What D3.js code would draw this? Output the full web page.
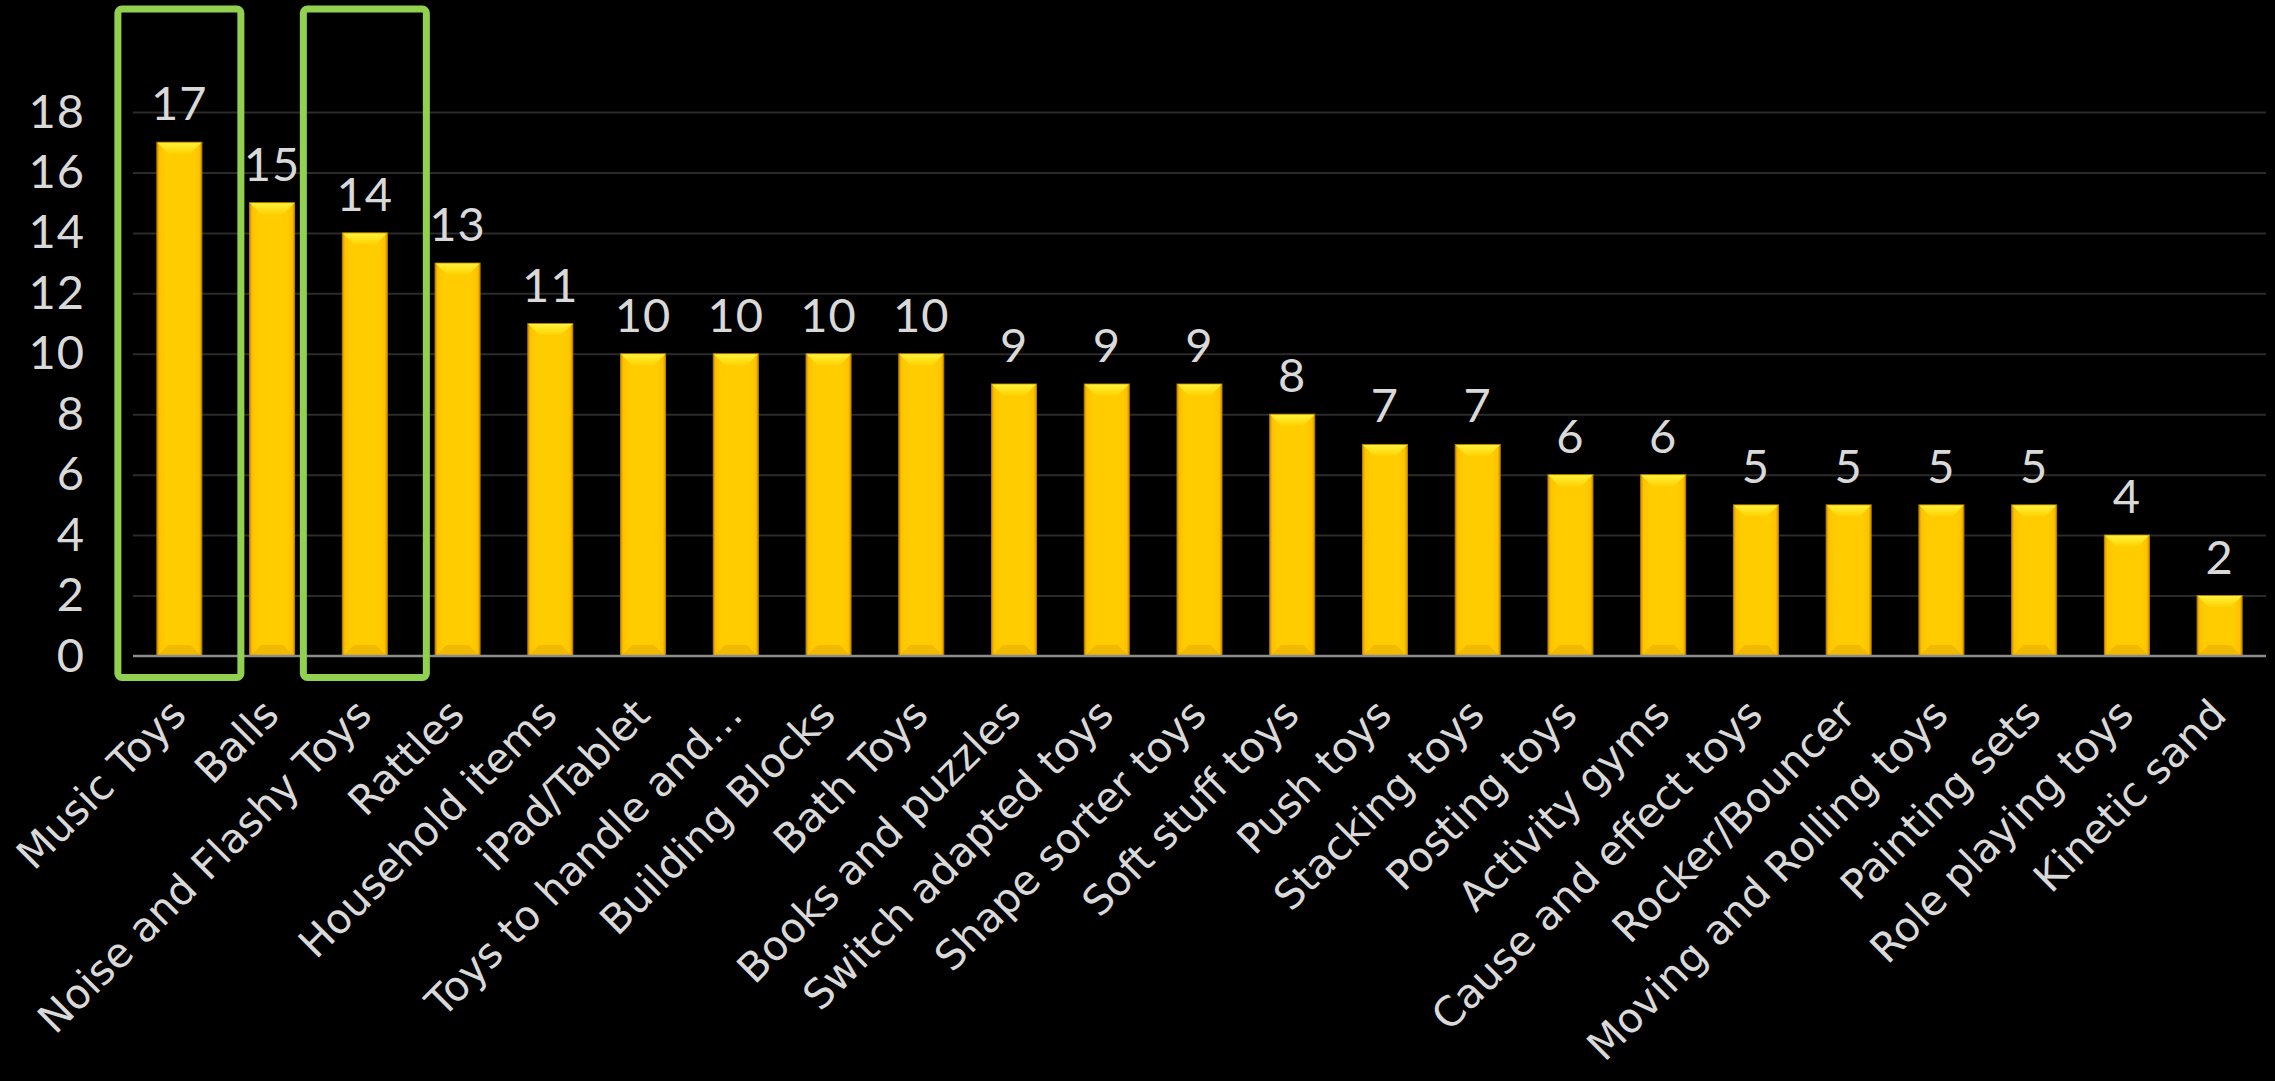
<!DOCTYPE html>
<html>
<head>
<meta charset="utf-8">
<script src="https://cdn.jsdelivr.net/npm/d3@7"></script>
<style>
  html, body { margin: 0; padding: 0; background: #000; }
  svg { display: block; }
</style>
</head>
<body>
<svg id="chart" width="2275" height="1081"></svg>
<script>
const categories = ["Music Toys","Balls","Noise and Flashy Toys","Rattles","Household items","iPad/Tablet","Toys to handle and…","Building Blocks","Bath Toys","Books and puzzles","Switch adapted toys","Shape sorter toys","Soft stuff toys","Push toys","Stacking toys","Posting toys","Activity gyms","Cause and effect toys","Rocker/Bouncer","Moving and Rolling toys","Painting sets","Role playing toys","Kinetic sand"];
const values = [17,15,14,13,11,10,10,10,10,9,9,9,8,7,7,6,6,5,5,5,5,4,2];
const yTicks = [0,2,4,6,8,10,12,14,16,18];
const highlighted = ["Music Toys","Noise and Flashy Toys"];

(function () {
const svg = d3.select("#chart");
svg.append("rect").attr("width",2275).attr("height",1081).attr("fill","#000");

const numFont = "Lato, 'Noto Sans', sans-serif";
const catFont = "'DejaVu Sans', sans-serif";
const textCol = "#d9d9d9";

const pLeft = 133, pRight = 2266, pTop = 112, pBottom = 656;
const x = d3.scaleBand().domain(categories).range([pLeft, pRight]).paddingInner(0.515).paddingOuter(0.2575);
const y = d3.scaleLinear().domain([0, 18]).range([pBottom, pTop]);

const defs = svg.append("defs");
const g1 = defs.append("linearGradient").attr("id","barGrad").attr("x1","0").attr("x2","1").attr("y1","0").attr("y2","0");
[["0%","#d49500"],["6%","#ffc200"],["18%","#ffcc00"],["82%","#ffcc00"],["94%","#ffc200"],["100%","#d49500"]]
  .forEach(([o,c]) => g1.append("stop").attr("offset",o).attr("stop-color",c));
const g2 = defs.append("linearGradient").attr("id","topGrad").attr("x1","0").attr("x2","0").attr("y1","0").attr("y2","1");
[["0%","#fff23c"],["100%","#ffd200"]].forEach(([o,c]) => g2.append("stop").attr("offset",o).attr("stop-color",c));

// Y axis with gridlines
const yAxis = d3.axisLeft(y).tickValues(yTicks).tickSize(-(pRight - pLeft)).tickPadding(48);
const ya = svg.append("g").attr("transform", `translate(${pLeft},0)`).call(yAxis);
ya.select(".domain").remove();
ya.selectAll(".tick line").attr("stroke","#2b2b2b").attr("stroke-width",2);
ya.selectAll(".tick text")
  .style("font-family", numFont).style("font-size","47px").style("fill", textCol)
  .style("letter-spacing","1px");
ya.selectAll(".tick").filter(d => d === 0).select("line").remove();

// Bars
const bw = x.bandwidth();
const bev = 11;
const bars = svg.append("g").selectAll("g").data(categories).join("g");
bars.append("rect")
  .attr("x", d => x(d)).attr("width", bw)
  .attr("y", (d,i) => y(values[i])).attr("height", (d,i) => y(0) - y(values[i]))
  .attr("fill","url(#barGrad)").attr("stroke","#b88400").attr("stroke-width",1);
bars.append("path")
  .attr("d", (d,i) => {
    const x0 = x(d)+0.5, x1 = x(d) + bw - 0.5, yt = y(values[i]) + 0.5;
    return `M${x0},${yt}L${x1},${yt}L${x1-bev},${yt+bev}L${x0+bev},${yt+bev}Z`;
  })
  .attr("fill","url(#topGrad)");
bars.append("path")
  .attr("d", (d,i) => {
    const x0 = x(d)+0.5, x1 = x(d) + bw - 0.5, yb = y(0);
    return `M${x0},${yb}L${x1},${yb}L${x1-bev},${yb-bev}L${x0+bev},${yb-bev}Z`;
  })
  .attr("fill","#eeb400").attr("opacity",0.8);

// Baseline
svg.append("line").attr("x1",pLeft).attr("x2",pRight).attr("y1",y(0)).attr("y2",y(0))
  .attr("stroke","#8c8c8c").attr("stroke-width",2.5);

// Value labels
svg.append("g").selectAll("text").data(categories).join("text")
  .attr("x", d => x(d) + bw/2)
  .attr("y", (d,i) => y(values[i]) - 22)
  .attr("text-anchor","middle")
  .style("font-family", numFont).style("font-size","47px").style("fill", textCol)
  .style("letter-spacing","1px")
  .text((d,i) => values[i]);

// Category labels (rotated)
svg.append("g").selectAll("text").data(categories).join("text")
  .attr("text-anchor","end")
  .style("font-family", catFont).style("font-size","41px").style("fill", textCol)
  .attr("transform", d => `translate(${x(d) + bw/2 + 9},${717}) rotate(-45)`)
  .text(d => d);

// Highlight boxes
svg.append("g").selectAll("rect").data(highlighted).join("rect")
  .attr("x", d => x(d) + bw/2 - 61.5)
  .attr("width", 123)
  .attr("y", 9).attr("height", 668.5)
  .attr("rx", 4)
  .attr("fill","none").attr("stroke","#92d050").attr("stroke-width",7);
})();
</script>
</body>
</html>
